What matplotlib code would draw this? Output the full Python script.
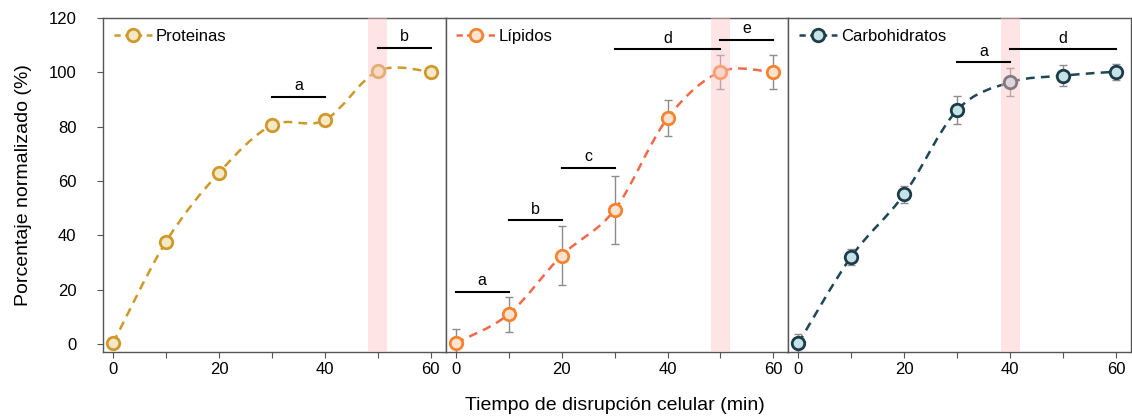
"""
Normalised extraction (%) of proteins, lipids and carbohydrates vs. disruption time.
"""

import numpy as np
import matplotlib
matplotlib.use('Agg')
import matplotlib.pyplot as plt
from matplotlib.path import Path
from matplotlib.patches import PathPatch
from matplotlib.lines import Line2D

plt.rcParams['font.family'] = ['Liberation Sans', 'DejaVu Sans']

# Data
time_min = [0, 10, 20, 30, 40, 50, 60]

proteinas = [0.3, 37.6, 63.0, 80.5, 82.4, 100.5, 100.2]
proteinas_err = [0, 0, 0, 0, 0, 0, 0]

lipidos = [0.3, 10.9, 32.5, 49.3, 83.1, 100.2, 100.0]
lipidos_err = [5.0, 6.4, 11.0, 12.4, 6.7, 6.2, 6.2]

carbohidratos = [0.2, 32.1, 55.1, 86.1, 96.3, 98.8, 100.2]
carbohidratos_err = [3.3, 3.0, 3.2, 5.0, 5.2, 3.8, 3.0]

# shaded optimum windows (x start, x end)
shade_prot = (48.2, 51.8)
shade_lip = (48.2, 51.8)
shade_carb = (38.3, 41.8)

# significance bars: (x0, x1, y, letter)
sig_prot = [(30, 40, 91.0, 'a'), (50, 60, 109.1, 'b')]
sig_lip = [(0, 10, 19.2, 'a'), (10, 20, 45.6, 'b'), (20, 30, 64.9, 'c'),
           (30, 50, 108.6, 'd'), (50, 60, 112.0, 'e')]
sig_carb = [(30, 40, 103.8, 'a'), (40, 60, 108.6, 'd')]


def smooth_path(x, y):
    """Excel-like smoothed line as cubic Bezier segments through the points."""
    x = np.asarray(x, float)
    y = np.asarray(y, float)
    n = len(x)
    verts = [(x[0], y[0])]
    codes = [Path.MOVETO]
    for i in range(n - 1):
        p0 = np.array([x[max(i - 1, 0)], y[max(i - 1, 0)]])
        p1 = np.array([x[i], y[i]])
        p2 = np.array([x[i + 1], y[i + 1]])
        p3 = np.array([x[min(i + 2, n - 1)], y[min(i + 2, n - 1)]])
        c1 = p1 + (p2 - p0) / 6.0
        c2 = p2 - (p3 - p1) / 6.0
        verts += [tuple(c1), tuple(c2), tuple(p2)]
        codes += [Path.CURVE4] * 3
    return Path(verts, codes)


def draw_panel(ax, y, err, label, line_c, edge_c, fill_c, shade, sigs, show_err=True):
    if show_err:
        ax.errorbar(time_min, y, yerr=err, fmt='none', ecolor='#8c8c8c',
                    elinewidth=1, capsize=3, capthick=1, zorder=2)
    ax.add_patch(PathPatch(smooth_path(time_min, y), fill=False, edgecolor=line_c,
                           linestyle=(0, (3.5, 2.5)), linewidth=1.8, zorder=3))
    ax.plot(time_min, y, linestyle='none', marker='o', markersize=9,
            markeredgewidth=2, markeredgecolor=edge_c, markerfacecolor=fill_c, zorder=4)
    ax.axvspan(shade[0], shade[1], color='#ffc4c8', alpha=0.45, lw=0, zorder=5)

    for x0, x1, yy, letter in sigs:
        ax.plot([x0, x1], [yy, yy], color='black', lw=1.5, zorder=6)
        ax.text((x0 + x1) / 2, yy + 1.2, letter, ha='center', va='bottom', fontsize=11.5)

    handle = Line2D([], [], color=line_c, linestyle=(0, (2.5, 1.8)), linewidth=1.8,
                    marker='o', markersize=9, markeredgewidth=2,
                    markeredgecolor=edge_c, markerfacecolor=fill_c)
    ax.legend([handle], [label], loc='upper left', frameon=False, fontsize=12,
              handlelength=2.3, handletextpad=0.2, borderaxespad=0.25,
              bbox_to_anchor=(0.0, 1.0))

    ax.set_xlim(-1.9, 62.8)
    ax.set_ylim(-3, 120)
    ax.set_xticks([0, 20, 40, 60])
    ax.set_xticks([10, 30, 50], minor=True)
    ax.tick_params(axis='x', which='both', direction='out', length=4, width=0.8,
                   color='#555555', labelsize=12, pad=3)
    for s in ax.spines.values():
        s.set_color('#555555')
        s.set_linewidth(1.0)


fig, axes = plt.subplots(1, 3, figsize=(11.32, 4.18), dpi=100, sharey=True,
                         gridspec_kw={'wspace': 0})
fig.subplots_adjust(left=0.091, right=0.999, top=0.957, bottom=0.158)

draw_panel(axes[0], proteinas, proteinas_err, 'Proteinas',
           '#cc992c', '#cf9a2c', '#f5e8c6', shade_prot, sig_prot, show_err=False)
draw_panel(axes[1], lipidos, lipidos_err, 'Lípidos',
           '#f06a4a', '#f5842e', '#fde3d2', shade_lip, sig_lip)
draw_panel(axes[2], carbohidratos, carbohidratos_err, 'Carbohidratos',
           '#1e4654', '#1c3c48', '#c6e2e9', shade_carb, sig_carb)

axes[0].set_yticks([0, 20, 40, 60, 80, 100, 120])
axes[0].tick_params(axis='y', direction='out', length=4, width=0.8,
                    color='#555555', labelsize=12, pad=15)
for ax in axes[1:]:
    ax.tick_params(axis='y', left=False, labelleft=False)

axes[0].set_ylabel('Porcentaje normalizado (%)', fontsize=14, labelpad=12)
fig.text(0.543, 0.03, 'Tiempo de disrupción celular (min)', ha='center',
         va='center', fontsize=14)

fig.savefig('out.png', dpi=100)
